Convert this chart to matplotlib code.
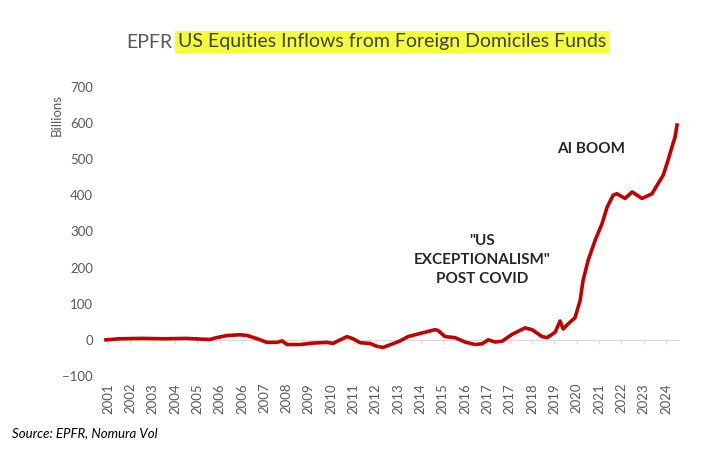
import matplotlib.pyplot as plt

plt.rcParams['font.family'] = ['Lato', 'DejaVu Sans']

# x position in tick units (0 = first "2001" label), value in billions
pos = [-0.09, 0.54, 1.5, 2.5, 3.5, 4.2, 4.57, 4.79, 5.33, 5.91, 6.23, 6.68,
       7.12, 7.57, 7.8, 8.02, 8.60, 9.18, 9.81, 10.08, 10.30, 10.71, 10.98,
       11.29, 11.74, 12.05, 12.32, 12.63, 13.08, 13.44, 14.07, 14.65, 14.78,
       15.10, 15.55, 15.99, 16.44, 16.76, 17.03, 17.34, 17.65, 18.10, 18.68,
       19.00, 19.44, 19.67, 20.03, 20.25, 20.39, 20.61, 20.92, 21.15, 21.28,
       21.51, 21.82, 22.13, 22.36, 22.63, 22.80, 23.16, 23.48, 23.92, 24.37,
       24.64, 24.87, 25.09, 25.31, 25.40, 25.49]
flows = [0, 3, 4, 3, 4, 2, 1, 5, 12, 14, 12, 3,
         -7, -7, -3, -13, -13, -9, -7, -10, -3, 9, 3,
         -8, -10, -18, -21, -14, -3, 9, 19, 28, 26,
         9, 6, -6, -13, -11, 0, -6, -4, 15, 33,
         28, 9, 6, 21, 52, 30, 44, 61, 109, 164,
         220, 275, 321, 367, 400, 404, 391, 409, 391, 404,
         432, 455, 497, 543, 560, 594]

tick_labels = ['2001', '2002', '2003', '2004', '2005', '2006', '2006', '2007',
               '2008', '2009', '2010', '2011', '2012', '2013', '2014', '2015',
               '2016', '2017', '2017', '2018', '2019', '2020', '2021', '2022',
               '2023', '2024']

gray = '#595959'

fig = plt.figure(figsize=(7.21, 4.49), dpi=100)
ax = fig.add_axes([0.1436, 0.1626, 0.7988, 0.6443])

for s in ['top', 'right', 'left']:
    ax.spines[s].set_visible(False)
# zero line doubles as the category axis (set before ticks, it resets them)
ax.spines['bottom'].set_position(('data', 0))
ax.spines['bottom'].set_color('#D9D9D9')
ax.spines['bottom'].set_zorder(0)

ax.plot(pos, flows, color='#C00000', lw=2.6, solid_joinstyle='round')

ax.set_xlim(-0.2, 25.6)
ax.set_ylim(-100, 700)
ax.set_yticks(range(-100, 701, 100))
ax.set_xticks(range(len(tick_labels)))
ax.set_xticklabels(tick_labels)
ax.tick_params(axis='x', length=3, color='#D9D9D9', labelcolor=gray,
               labelsize=9.5, pad=28, labelrotation=90)
ax.tick_params(axis='y', length=0, labelcolor=gray, labelsize=9.5, pad=7.5)

fig.text(57 / 721, 1 - 115 / 449, 'Billions', rotation=90, color=gray,
         fontsize=9.5, ha='center', va='center')

# title: gray "EPFR" then highlighted part
fig.text(172 / 721, 1 - 42 / 449, 'EPFR', color=gray, fontsize=14,
         ha='right', va='center')
fig.text(178 / 721, 1 - 42 / 449,
         'US Equities Inflows from Foreign Domiciles Funds', color='#404040',
         fontsize=14, ha='left', va='center',
         bbox=dict(facecolor='#F4FF3A', edgecolor='none', pad=2))

ax.text(591 / 721, 1 - 149 / 449, 'AI BOOM', transform=fig.transFigure,
        fontsize=11, fontweight='bold', color='#262626', ha='center',
        va='center')
ax.text(482 / 721, 1 - 260 / 449, '"US\nEXCEPTIONALISM"\nPOST COVID',
        transform=fig.transFigure, fontsize=11, fontweight='bold',
        color='#262626', ha='center', va='center', linespacing=1.45)

fig.text(12 / 721, 1 - 433 / 449, 'Source: EPFR, Nomura Vol', fontsize=9.5,
         style='italic', color='black', ha='left', va='center')

fig.savefig('out.png', dpi=100)
